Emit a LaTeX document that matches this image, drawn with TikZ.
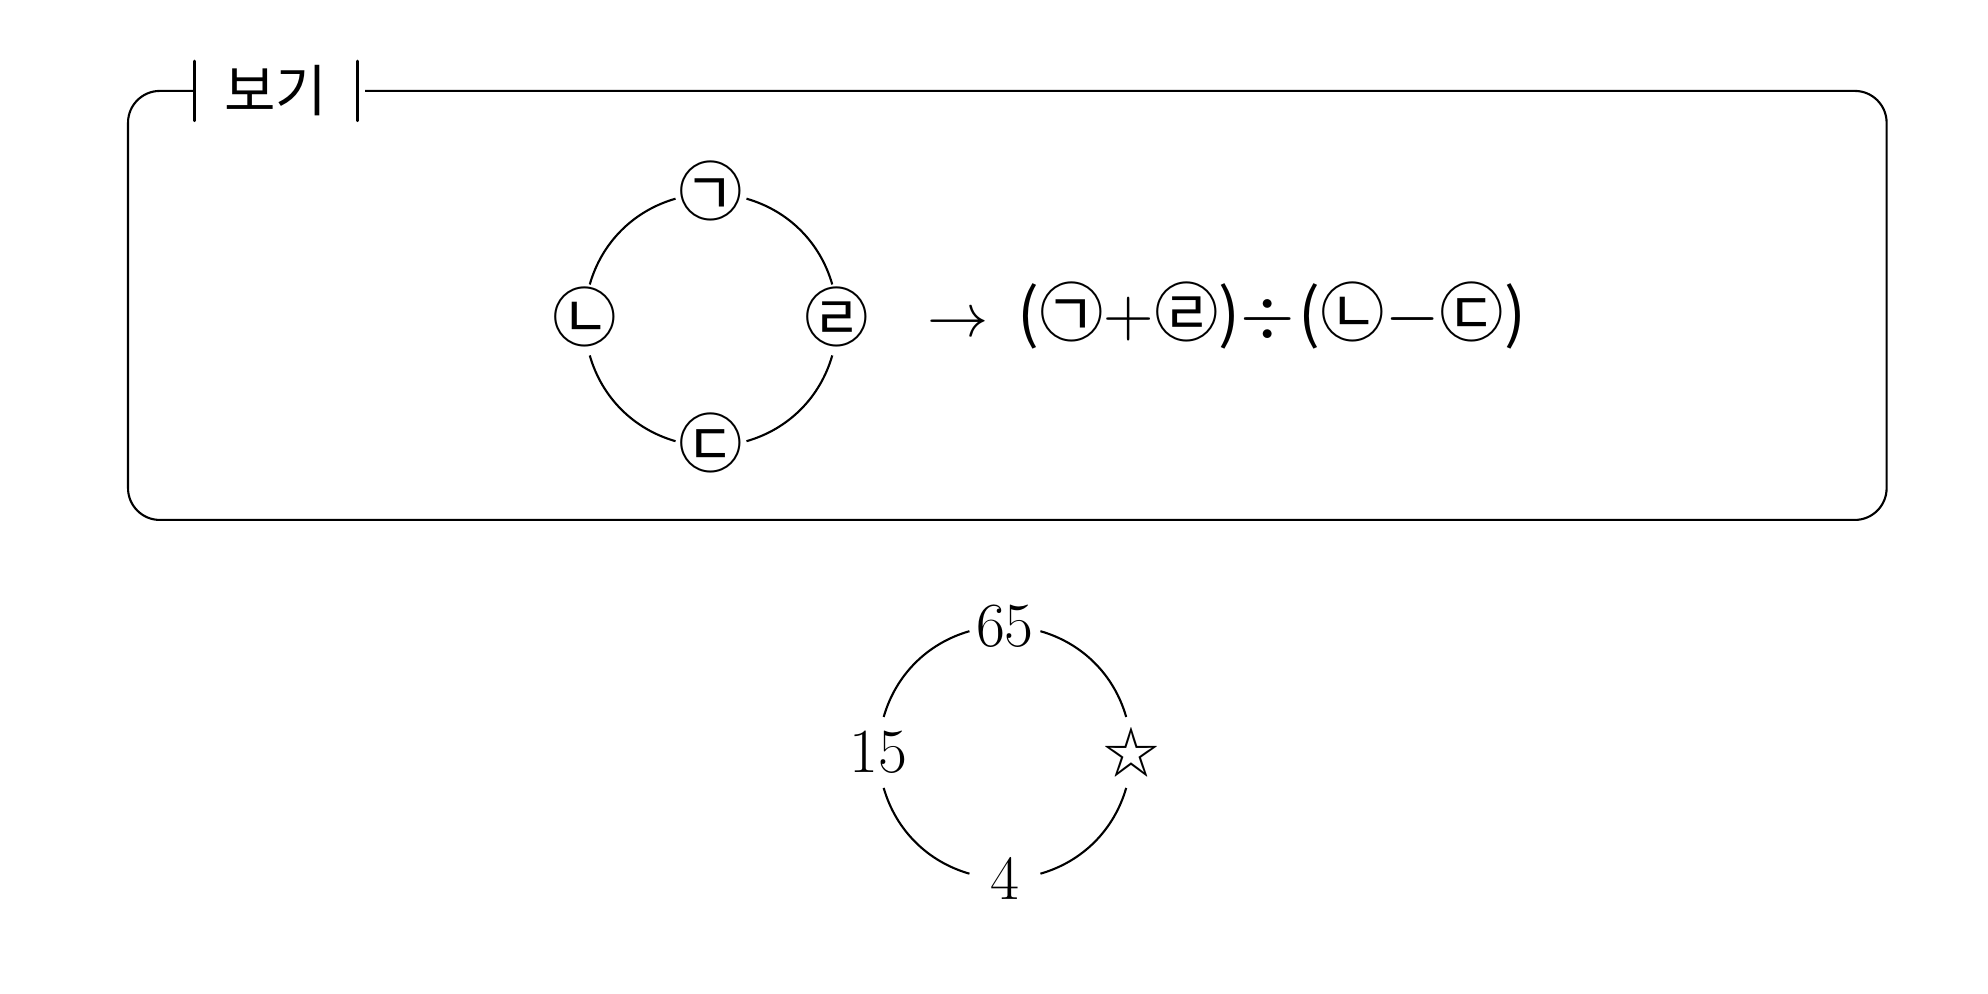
\documentclass[tikz,border=0pt]{standalone}
\usepackage{fix-cm}
\usepackage{fontspec}
\newfontfamily\hangul{Noto Sans CJK KR}
\begin{document}
\begin{tikzpicture}[line width=0.6pt,
        spot/.style={circle,inner sep=0pt,minimum size=7mm}]
    \def\radius{1.27}
    \def\ctrl{0.44}
    \def\kr{\fontsize{16}{19}\selectfont\hangul}
    \def\kc{\fontsize{18.5}{22}\selectfont\hangul}
    \def\op#1{{\fontsize{20}{24}\selectfont$#1$}}
    \useasboundingbox (0,0) rectangle (20,10);

    \node [inner xsep=2.9mm,inner ysep=0pt,minimum height=5.8mm] (title) at (2.775,9.085) {\kr 보기};
    \draw [rounded corners=3.2mm] (title.west) -| (1.288,4.769) -| (18.98,9.085) -- ([xshift=0.8mm]title.east);
    \draw [line width=0.8pt,line cap=round] (title.north west) -- (title.south west) (title.north east) -- (title.south east);

    \begin{scope}[shift={(7.153,6.781)}]
        \foreach \ang/\name/\txt in {90/gi/㉠,180/ni/㉡,270/di/㉢,0/ri/㉣}
            \node [spot,label={[yshift=0.3mm]center:\kc \txt}] (\name) at (\ang:\radius) {};
        \foreach \from/\to/\th [evaluate=\th as \a using int(\th+98), evaluate=\th as \b using int(\th-8)] in {gi/ni/90,ni/di/180,di/ri/270,ri/gi/0}
            \draw (\from.\a) .. controls +({\th+106}:\ctrl) and +({\th-16}:\ctrl) .. (\to.\b);
    \end{scope}

    \node [anchor=west,inner sep=0pt] (rule) at (9.32,6.83) {{\fontsize{17.5}{21}\selectfont$\rightarrow$}\hspace{0.29cm}{\kc(㉠}\op{+}{\kc㉣)}\op{\div}\hspace{0.4mm}{\kc(㉡}\op{-}{\kc㉢)}};

    \begin{scope}[shift={(10.11,2.43)}]
        \foreach \ang/\name/\txt in {90/sixtyfive/65,180/fifteen/15,270/four/4,0/star/{\kr ☆}}
            \node [spot,label={center:\fontsize{18}{22}\selectfont \txt}] (\name) at (\ang:\radius) {};
        \foreach \from/\to/\th [evaluate=\th as \a using int(\th+98), evaluate=\th as \b using int(\th-8)] in {sixtyfive/fifteen/90,fifteen/four/180,four/star/270,star/sixtyfive/0}
            \draw (\from.\a) .. controls +({\th+106}:\ctrl) and +({\th-16}:\ctrl) .. (\to.\b);
    \end{scope}
\end{tikzpicture}
\end{document}
